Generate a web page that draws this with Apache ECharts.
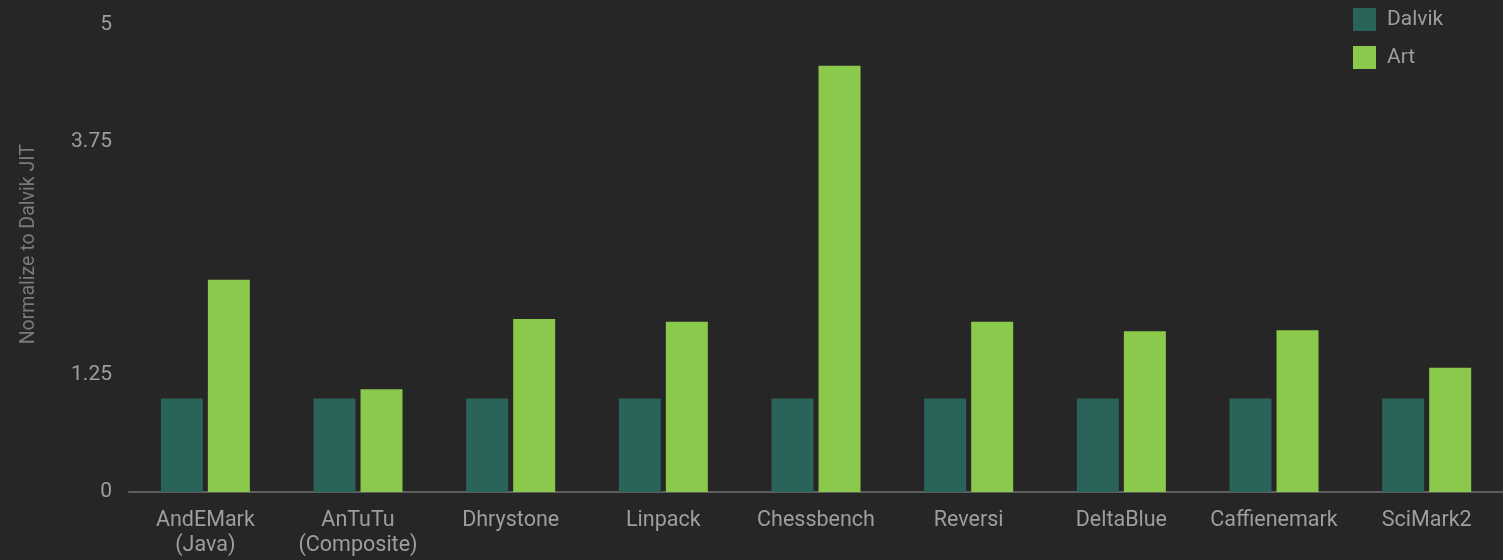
<!DOCTYPE html>
<html>
<head>
<meta charset="utf-8">
<script src="https://cdn.jsdelivr.net/npm/echarts@6/dist/echarts.min.js"></script>
<style>
html,body{margin:0;padding:0;background:#262626;}
#c{width:1503px;height:560px;}
</style>
</head>
<body>
<div id="c"></div>
<script>
const categories = ['AndEMark\n(Java)', 'AnTuTu\n(Composite)', 'Dhrystone', 'Linpack', 'Chessbench', 'Reversi', 'DeltaBlue', 'Caffienemark', 'SciMark2'];
const dalvik = [1, 1, 1, 1, 1, 1, 1, 1, 1];
const art = [2.27, 1.10, 1.85, 1.82, 4.56, 1.82, 1.72, 1.73, 1.33];
const yTicks = [0, 1.25, 3.75, 5];

const chart = echarts.init(document.getElementById('c'));
chart.setOption({
  backgroundColor: '#262626',
  animation: false,
  textStyle: { fontFamily: 'Roboto' },
  legend: {
    orient: 'vertical',
    left: 1348,
    top: 3,
    itemWidth: 23,
    itemHeight: 23,
    itemGap: 15,
    icon: 'rect',
    textStyle: { color: '#9e9e9e', fontSize: 21, fontFamily: 'Roboto', padding: [0, 0, 0, 6] },
    data: ['Dalvik', 'Art']
  },
  grid: { left: 129, right: 0, top: 24.5, bottom: 68 },
  xAxis: {
    type: 'category',
    data: categories,
    axisLine: { lineStyle: { color: '#5e5e5e', width: 2 } },
    axisTick: { show: false },
    axisLabel: { color: '#9e9e9e', fontSize: 21.5, margin: 16, lineHeight: 25, interval: 0, fontFamily: 'Roboto' }
  },
  yAxis: {
    type: 'value',
    min: 0,
    max: 5,
    interval: 1.25,
    name: 'Normalize to Dalvik JIT',
    nameLocation: 'middle',
    nameGap: 90,
    nameTextStyle: { color: '#7a7a7a', fontSize: 19.5, fontFamily: 'Roboto', padding: [0, 0, 0, 28] },
    axisLine: { show: false },
    axisTick: { show: false },
    splitLine: { show: false },
    axisLabel: {
      color: '#9e9e9e', fontSize: 21, margin: 17, fontFamily: 'Roboto',
      formatter: function (v) { return yTicks.indexOf(v) >= 0 ? String(v) : ''; }
    }
  },
  series: [
    { name: 'Dalvik', type: 'bar', data: dalvik, barWidth: 42, barGap: '12%', itemStyle: { color: '#2a6359' } },
    { name: 'Art', type: 'bar', data: art, barWidth: 42, itemStyle: { color: '#8bc94c' } }
  ]
});
</script>
</body>
</html>
